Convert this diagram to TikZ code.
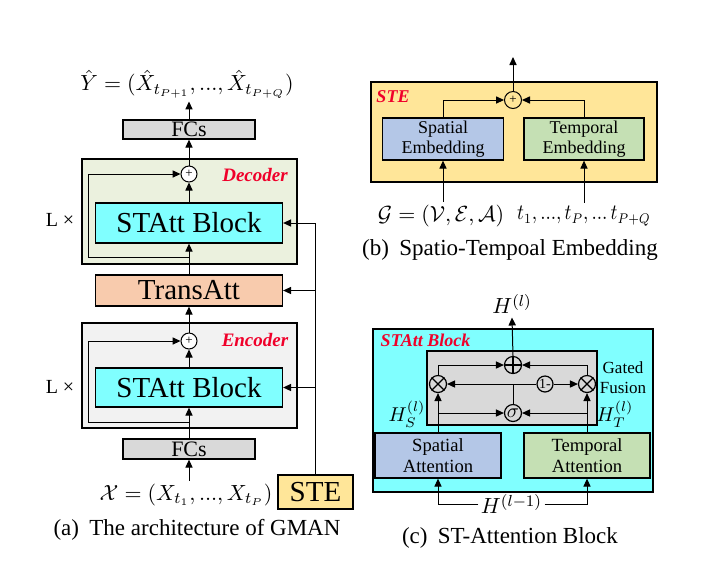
\documentclass[tikz,border=0pt]{standalone}
\usepackage{fontspec}
\setmainfont{Liberation Serif}
\usetikzlibrary{arrows.meta,calc}
\definecolor{cyanbox}{HTML}{80FFFF}
\definecolor{decfill}{HTML}{EBF1DE}
\definecolor{encfill}{HTML}{F2F2F2}
\definecolor{transfill}{HTML}{F8CBAD}
\definecolor{fcfill}{HTML}{D9D9D9}
\definecolor{stefill}{HTML}{FFE699}
\definecolor{spfill}{HTML}{B4C7E7}
\definecolor{tpfill}{HTML}{C5E0B4}
\definecolor{gffill}{HTML}{D9D9D9}
\definecolor{labred}{HTML}{F0002A}
\newcommand{\fs}[1]{\fontsize{#1}{#1}\selectfont}
\newcommand{\tdots}{{.}{.}{.}}
\begin{document}
\begin{tikzpicture}[x=0.5pt,y=-0.5pt,
  >={Triangle[length=4pt,width=3.6pt]}, line width=0.5pt,
  blk/.style={draw, line width=0.65pt, inner sep=0pt},
  sumc/.style={circle, draw, line width=0.5pt, inner sep=0pt, minimum size=8pt, font=\fs{6.5}},
  opc/.style={circle, draw, line width=0.6pt, inner sep=0pt, minimum size=8.5pt},
  lab/.style={font=\fs{9.5}\bfseries\itshape, text=labred, inner sep=0pt},
  captxt/.style={font=\fs{11.5}, inner sep=0pt},
  two/.style={align=center, font={\fontsize{9}{10}\selectfont}},
  twoc/.style={align=center, font={\fontsize{9.3}{10.8}\selectfont}},
]
\useasboundingbox (0,0) rectangle (712,580);

% ---------------- (a) ----------------
\node[blk, fill=decfill, minimum width=107.5pt, minimum height=52.5pt] (dec) at (189.5,211.5) {};
\node[blk, fill=encfill, minimum width=107.5pt, minimum height=52.5pt] (enc) at (189.5,375.5) {};
\node[blk, fill=cyanbox, minimum width=93.5pt, minimum height=20pt, font=\fs{14.5}] (sadec) at (189,223) {STAtt Block};
\node[blk, fill=cyanbox, minimum width=93.5pt, minimum height=19.5pt, font=\fs{14.5}] (saenc) at (189,387.5) {STAtt Block};
\node[blk, fill=transfill, minimum width=93.5pt, minimum height=15.5pt, font=\fs{14.5}] (trans) at (189,290.5) {TransAtt};
\node[blk, fill=fcfill, minimum width=66pt, minimum height=9.5pt, font=\fs{11}] (fctop) at (189,129.5) {FCs};
\node[blk, fill=fcfill, minimum width=66pt, minimum height=10pt, font=\fs{11}] (fcbot) at (189,449) {FCs};
\node[blk, fill=stefill, minimum width=37.5pt, minimum height=17pt, font=\fs{14.5}] (ste) at (315.5,492) {STE};
\node[sumc, fill=white] (pdec) at (189,174) {+};
\node[sumc, fill=white] (penc) at (189,341) {+};
\node[lab] (declab) at (255,175) {Decoder};
\node[lab] (enclab) at (255,340) {Encoder};
\node[font=\fs{10}] (l1) at (60,220) {L ×};
\node[font=\fs{10}] (l2) at (60,387) {L ×};
\node[font=\fs{11}, inner sep=1.5pt] (yhat) at (187,84) {$\hat{Y}=(\hat{X}_{t_{P+1}},\tdots,\hat{X}_{t_{P+Q}})$};
\node[font=\fs{11}, inner sep=1.5pt] (xin) at (186,495) {$\mathcal{X}=(X_{t_1},\tdots,X_{t_P})$};
\node[captxt] (capa) at (197,530) {(a)\hspace{0.45em}The architecture of GMAN};

\draw[->] (xin.north -| fcbot.south) -- (fcbot.south);
\draw[->] (fcbot.north) -- (saenc.south);
\draw[->] (saenc.north) -- (penc.south);
\draw[->] (penc.north) -- (trans.south);
\draw[->] (trans.north) -- (sadec.south);
\draw[->] (sadec.north) -- (pdec.south);
\draw[->] (pdec.north) -- (fctop.south);
\draw[->] (fctop.north) -- (fctop.north |- yhat.south);
\coordinate (sdec) at (189,257);
\coordinate (senc) at (189,422);
\draw[->] (sdec) -- ++(-101,0) |- (pdec.west);
\draw[->] (senc) -- ++(-101,0) |- (penc.west);
\draw[->] (ste.north) |- (sadec.east);
\draw[->] (ste.north |- trans.east) -- (trans.east);
\draw[->] (ste.north |- saenc.east) -- (saenc.east);

% ---------------- (b) ----------------
\node[blk, fill=stefill, minimum width=143pt, minimum height=50pt] (stebox) at (514,132) {};
\node[lab, font=\fs{9}\bfseries\itshape] (stelab) at (393,97) {STE};
\node[sumc, fill=stefill, minimum size=8.5pt] (pste) at (513,100) {+};
\node[blk, fill=spfill, minimum width=60.5pt, minimum height=21pt, two] (se) at (443,139) {Spatial\\Embedding};
\node[blk, fill=tpfill, minimum width=60pt, minimum height=21pt, two] (te) at (584,139) {Temporal\\Embedding};
\coordinate (steout) at (513,57);
\draw[->] (pste.north) -- (steout);
\draw[->] (se.north) |- (pste.west);
\draw[->] (te.north) |- (pste.east);
\node[font=\fs{10.5}, inner sep=1.5pt] (gin) at (441,216) {$\mathcal{G}=(\mathcal{V},\mathcal{E},\mathcal{A})$};
\node[font=\fs{10.5}, inner sep=1.5pt] (tin) at (584,216) {\scalebox{0.87}[1]{$t_1,\tdots,t_P,\tdots\,t_{P+Q}$}};
\draw[->] (se.south |- gin.north) -- (se.south);
\draw[->] (te.south |- tin.north) -- (te.south);
\node[captxt] (capb) at (510,250) {(b)\hspace{0.45em}Spatio-Tempoal Embedding};

% ---------------- (c) ----------------
\node[blk, fill=cyanbox, minimum width=140pt, minimum height=81.5pt] (stc) at (513,410.5) {};
\node[lab, font=\fs{9}\bfseries\itshape] (stclab) at (425.5,340) {STAtt Block};
\node[blk, fill=gffill, minimum width=85pt, minimum height=37pt] (gf) at (512,388) {};
\node[blk, fill=spfill, minimum width=63pt, minimum height=22.5pt, twoc] (sat) at (438,455.5) {Spatial\\Attention};
\node[blk, fill=tpfill, minimum width=63pt, minimum height=22.5pt, twoc] (tat) at (587,455.5) {Temporal\\Attention};
\node[opc] (plc) at (513,365) {};
\draw[line width=0.7pt] (plc.north) -- (plc.south) (plc.west) -- (plc.east);
\node[opc] (ml) at (438,384) {};
\draw[line width=0.6pt] (ml.north west) -- (ml.south east) (ml.north east) -- (ml.south west);
\node[opc] (mr) at (587,384) {};
\draw[line width=0.6pt] (mr.north west) -- (mr.south east) (mr.north east) -- (mr.south west);
\node[opc, minimum size=8pt, font=\fs{7}] (onem) at (545,384) {1-};
\node[opc, font=\fs{10}] (sig) at (513,413) {$\sigma$};
\node[twoc, font={\fontsize{8.5}{10}\selectfont}] (gfl) at (623,378) {Gated\\Fusion};
\node[font=\fs{10}, inner sep=0pt] (hs) at (407,414) {$H_S^{(l)}$};
\node[font=\fs{10}, inner sep=0pt] (ht) at (615,414) {$H_T^{(l)}$};
\node[font=\fs{11}, inner sep=1.5pt] (hout) at (512,304) {$H^{(l)}$};
\node[font=\fs{11}, inner sep=1pt] (hin) at (511.5,504) {$H^{(l-1)}$};
\node[captxt] (capc) at (510,538) {(c)\hspace{0.45em}ST-Attention Block};

\draw[->] (sat.north) -- (ml.south);
\draw[->] (tat.north) -- (mr.south);
\draw[->] (sat.north |- sig.west) -- (sig.west);
\draw[->] (tat.north |- sig.east) -- (sig.east);
\draw (sig.north) -- (sig.north |- ml.east) coordinate (jn);
\draw[->] (jn) -- (ml.east);
\draw (jn) -- (onem.west);
\draw[->] (onem.east) -- (mr.west);
\draw[->] (ml.north) |- (plc.west);
\draw[->] (mr.north) |- (plc.east);
\draw[->] (plc.north) -- (hout.south);
\draw[->] (hin.west) -| (sat.south);
\draw[->] (hin.east) -| (tat.south);
\end{tikzpicture}
\end{document}
